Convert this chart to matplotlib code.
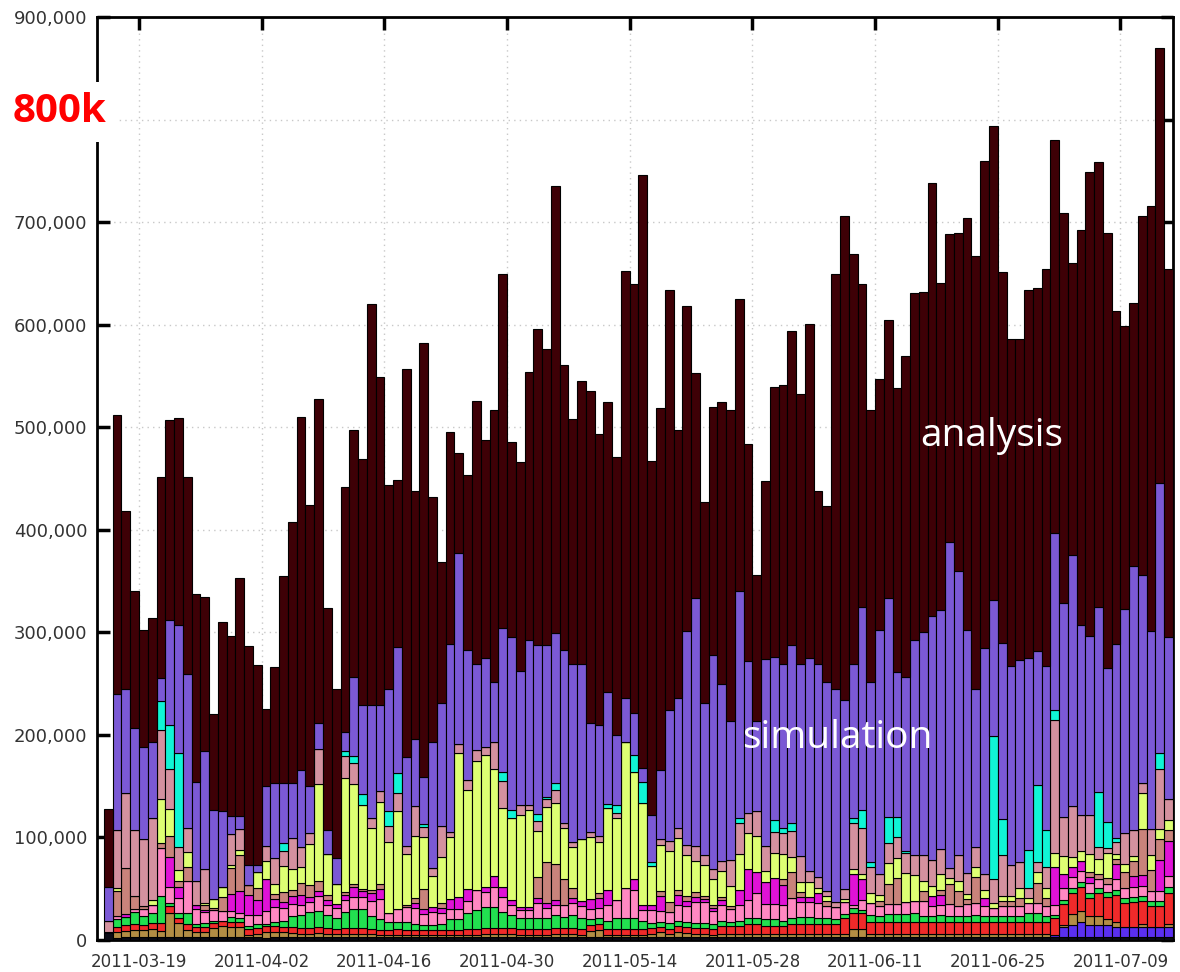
import matplotlib
matplotlib.use("Agg")
import matplotlib.pyplot as plt
import matplotlib.dates as mdates
from matplotlib.ticker import FuncFormatter, MultipleLocator
import numpy as np
import pandas as pd

# ---- data (thousands of jobs per day) ----
days = pd.date_range("2011-03-15", "2011-07-14", freq="D")

total = [
    128, 512, 418, 340, 302, 314, 451, 507, 509, 451,
    337, 334, 220, 310, 296, 353, 287, 268, 225, 266,
    355, 408, 510, 424, 528, 324, 245, 442, 497, 469,
    620, 549, 444, 449, 557, 438, 582, 432, 369, 495,
    475, 453, 526, 488, 517, 649, 486, 466, 554, 596,
    576, 735, 561, 508, 545, 535, 493, 525, 471, 652,
    640, 746, 467, 519, 634, 497, 618, 553, 427, 520,
    525, 517, 625, 484, 356, 448, 539, 541, 594, 532,
    601, 438, 423, 649, 706, 669, 640, 517, 547, 605,
    538, 569, 631, 632, 738, 641, 688, 689, 704, 667,
    760, 794, 651, 586, 586, 634, 636, 654, 780, 709,
    660, 692, 749, 759, 689, 613, 599, 621, 706, 716,
    870, 654]

simulation_top = [
    52, 240, 245, 207, 188, 193, 255, 312, 307, 259,
    154, 184, 127, 126, 121, 121, 73, 73, 150, 153,
    153, 153, 166, 150, 212, 107, 80, 203, 256, 229,
    229, 229, 245, 286, 178, 196, 159, 193, 231, 289,
    377, 283, 269, 275, 252, 304, 295, 262, 293, 288,
    288, 299, 283, 269, 269, 212, 210, 242, 200, 236,
    221, 168, 122, 166, 224, 236, 301, 333, 231, 278,
    250, 214, 340, 272, 214, 274, 276, 269, 288, 269,
    275, 269, 252, 245, 234, 269, 325, 252, 302, 333,
    261, 256, 293, 300, 316, 322, 388, 360, 302, 245,
    285, 332, 290, 267, 273, 275, 282, 267, 397, 329,
    375, 307, 296, 325, 265, 289, 323, 365, 356, 301,
    446, 295]

# smaller activities, one row per day:
# other, blue, tan, red, green, pink, magenta, rosy, yellow, mauve, cyan
small = [
    [8, 0, 0, 0, 0, 0, 0, 0, 0, 11, 0],
    [2, 0, 6, 5, 7, 3, 0, 25, 3, 56, 0],
    [3, 0, 6, 6, 7, 0, 3, 45, 0, 73, 0],
    [3, 0, 7, 6, 11, 3, 0, 13, 0, 64, 0],
    [3, 0, 7, 5, 8, 7, 0, 3, 0, 65, 0],
    [3, 0, 8, 6, 9, 8, 0, 0, 5, 80, 0],
    [3, 0, 6, 8, 26, 47, 0, 5, 42, 68, 28],
    [3, 0, 23, 7, 3, 16, 29, 20, 27, 39, 43],
    [3, 0, 14, 4, 5, 15, 11, 6, 10, 23, 91],
    [3, 0, 7, 6, 10, 32, 0, 13, 15, 23, 0],
    [3, 0, 5, 5, 3, 14, 4, 0, 0, 24, 0],
    [3, 0, 5, 5, 4, 10, 2, 5, 2, 33, 0],
    [3, 0, 9, 5, 2, 10, 0, 2, 9, 0, 0],
    [3, 0, 11, 5, 0, 9, 0, 14, 10, 0, 0],
    [3, 0, 10, 5, 4, 6, 17, 25, 3, 30, 0],
    [3, 0, 10, 5, 3, 5, 22, 35, 5, 20, 0],
    [3, 0, 2, 6, 3, 10, 20, 10, 0, 0, 0],
    [3, 0, 3, 6, 4, 8, 15, 12, 15, 0, 0],
    [2, 0, 6, 6, 2, 12, 31, 0, 18, 15, 0],
    [3, 0, 5, 6, 4, 14, 8, 5, 10, 25, 0],
    [3, 0, 5, 5, 6, 12, 6, 10, 25, 15, 8],
    [3, 0, 4, 6, 10, 12, 8, 6, 20, 30, 0],
    [3, 0, 3, 6, 12, 10, 10, 12, 15, 20, 0],
    [3, 0, 3, 6, 15, 10, 5, 12, 40, 10, 0],
    [3, 0, 4, 6, 15, 15, 5, 10, 94, 34, 0],
    [3, 0, 3, 6, 12, 10, 5, 5, 40, 0, 0],
    [3, 0, 3, 5, 10, 10, 4, 0, 20, 0, 0],
    [3, 0, 3, 6, 15, 12, 5, 3, 111, 21, 5],
    [3, 0, 3, 6, 18, 12, 10, 3, 97, 21, 6],
    [3, 0, 3, 6, 18, 12, 6, 2, 82, 0, 10],
    [3, 0, 3, 5, 12, 15, 8, 3, 60, 10, 0],
    [3, 0, 2, 5, 10, 20, 10, 5, 80, 10, 0],
    [3, 0, 2, 5, 8, 8, 0, 0, 70, 15, 15],
    [3, 0, 2, 6, 7, 12, 0, 0, 96, 17, 20],
    [3, 0, 2, 5, 8, 14, 0, 2, 50, 8, 0],
    [3, 0, 2, 5, 6, 15, 5, 5, 60, 30, 0],
    [3, 0, 2, 5, 5, 10, 5, 20, 50, 10, 3],
    [3, 0, 2, 5, 5, 12, 5, 0, 30, 8, 0],
    [3, 0, 2, 5, 6, 10, 5, 5, 45, 30, 0],
    [3, 0, 2, 5, 10, 10, 10, 0, 60, 5, 0],
    [3, 0, 2, 5, 10, 10, 12, 0, 140, 9, 0],
    [3, 0, 2, 6, 15, 12, 12, 0, 96, 10, 0],
    [3, 0, 2, 6, 18, 20, 0, 0, 126, 10, 0],
    [3, 0, 3, 6, 20, 15, 5, 0, 128, 8, 0],
    [3, 0, 3, 6, 20, 20, 10, 0, 105, 26, 0],
    [3, 0, 3, 6, 15, 15, 10, 0, 77, 26, 9],
    [3, 0, 3, 6, 12, 10, 5, 0, 80, 0, 8],
    [3, 0, 2, 6, 10, 8, 3, 0, 90, 10, 0],
    [3, 0, 2, 6, 10, 8, 3, 0, 95, 5, 0],
    [3, 0, 2, 6, 10, 15, 5, 20, 45, 10, 7],
    [3, 0, 2, 6, 10, 10, 5, 40, 54, 7, 2],
    [3, 0, 3, 6, 12, 10, 5, 35, 60, 12, 7],
    [3, 0, 3, 6, 10, 12, 0, 25, 50, 5, 0],
    [3, 0, 3, 6, 12, 12, 5, 10, 40, 5, 0],
    [3, 0, 2, 6, 10, 12, 5, 0, 60, 0, 0],
    [3, 0, 6, 6, 5, 10, 10, 0, 60, 5, 0],
    [3, 0, 7, 6, 5, 10, 10, 5, 50, 5, 0],
    [3, 0, 2, 6, 8, 15, 15, 0, 80, 0, 4],
    [3, 0, 2, 6, 10, 18, 0, 0, 80, 5, 8],
    [3, 0, 2, 6, 10, 30, 0, 0, 142, 0, 0],
    [3, 0, 2, 6, 10, 28, 10, 0, 105, 0, 16],
    [3, 0, 2, 6, 8, 10, 5, 0, 100, 0, 20],
    [3, 0, 3, 6, 5, 12, 5, 0, 38, 0, 4],
    [3, 0, 5, 5, 5, 10, 15, 5, 45, 5, 0],
    [3, 0, 3, 5, 6, 10, 0, 10, 50, 10, 0],
    [3, 0, 5, 6, 5, 15, 10, 5, 50, 10, 0],
    [3, 0, 4, 6, 5, 15, 5, 5, 40, 10, 0],
    [3, 0, 3, 6, 5, 20, 5, 5, 30, 15, 0],
    [3, 0, 3, 6, 5, 20, 3, 3, 30, 10, 0],
    [3, 0, 2, 6, 5, 12, 3, 3, 25, 10, 0],
    [3, 0, 3, 8, 5, 15, 5, 3, 25, 10, 0],
    [3, 0, 3, 8, 4, 12, 0, 3, 20, 25, 0],
    [3, 0, 3, 8, 5, 15, 15, 0, 35, 30, 5],
    [3, 0, 3, 10, 5, 18, 30, 0, 35, 20, 0],
    [3, 0, 3, 10, 5, 25, 20, 0, 35, 25, 0],
    [3, 0, 3, 8, 6, 15, 22, 0, 10, 25, 0],
    [3, 0, 3, 8, 6, 15, 25, 0, 25, 20, 12],
    [3, 0, 3, 8, 5, 15, 20, 5, 25, 20, 5],
    [3, 0, 3, 10, 5, 20, 0, 25, 15, 25, 8],
    [3, 0, 3, 10, 6, 15, 5, 5, 10, 25, 0],
    [3, 0, 3, 10, 6, 15, 5, 0, 15, 10, 0],
    [3, 0, 3, 10, 5, 15, 10, 0, 5, 10, 0],
    [3, 0, 3, 10, 5, 12, 0, 5, 5, 5, 0],
    [3, 0, 3, 10, 4, 12, 0, 0, 0, 5, 0],
    [3, 0, 3, 15, 4, 12, 0, 0, 3, 10, 0],
    [3, 0, 8, 15, 5, 3, 30, 0, 5, 45, 5],
    [3, 0, 8, 15, 3, 10, 20, 0, 5, 45, 18],
    [3, 0, 3, 12, 6, 12, 0, 0, 10, 25, 5],
    [3, 0, 3, 12, 5, 10, 0, 5, 6, 20, 0],
    [3, 0, 3, 12, 7, 10, 0, 20, 20, 20, 25],
    [3, 0, 3, 12, 7, 10, 0, 25, 20, 20, 20],
    [3, 0, 3, 12, 7, 12, 0, 0, 28, 20, 2],
    [3, 0, 3, 12, 8, 12, 0, 0, 25, 20, 0],
    [3, 0, 3, 12, 5, 15, 0, 10, 10, 25, 0],
    [3, 0, 3, 12, 5, 10, 10, 0, 10, 25, 0],
    [3, 0, 3, 12, 6, 10, 10, 5, 15, 25, 0],
    [3, 0, 3, 12, 5, 12, 0, 20, 5, 10, 0],
    [3, 0, 3, 12, 5, 10, 0, 15, 10, 25, 0],
    [3, 0, 3, 12, 5, 12, 0, 5, 5, 20, 0],
    [3, 0, 3, 12, 6, 12, 0, 25, 10, 20, 0],
    [3, 0, 3, 12, 5, 10, 8, 0, 8, 15, 0],
    [3, 0, 3, 12, 5, 8, 0, 0, 5, 23, 140],
    [3, 0, 3, 12, 5, 10, 0, 5, 5, 40, 35],
    [3, 0, 3, 12, 5, 10, 0, 5, 5, 30, 0],
    [3, 0, 3, 12, 5, 10, 0, 8, 10, 25, 0],
    [3, 0, 3, 12, 8, 10, 0, 0, 5, 10, 37],
    [3, 0, 3, 12, 8, 10, 0, 20, 10, 10, 75],
    [3, 0, 3, 12, 5, 10, 0, 8, 10, 20, 36],
    [3, 2, 0, 16, 3, 10, 37, 0, 14, 130, 9],
    [3, 10, 2, 20, 4, 12, 13, 0, 18, 38, 0],
    [3, 12, 10, 21, 5, 10, 10, 0, 10, 50, 0],
    [3, 15, 10, 24, 5, 10, 10, 0, 10, 35, 0],
    [3, 12, 8, 18, 5, 10, 5, 5, 18, 38, 0],
    [3, 12, 8, 23, 5, 8, 0, 5, 15, 12, 53],
    [3, 12, 5, 22, 5, 8, 0, 5, 25, 5, 25],
    [3, 10, 5, 26, 5, 10, 15, 5, 5, 12, 3],
    [3, 10, 0, 23, 5, 10, 0, 15, 8, 30, 0],
    [3, 10, 0, 24, 5, 10, 10, 15, 5, 25, 0],
    [3, 10, 3, 22, 5, 10, 10, 45, 35, 10, 0],
    [3, 10, 0, 20, 5, 10, 0, 20, 15, 25, 0],
    [3, 10, 0, 20, 5, 10, 30, 20, 10, 59, 15],
    [3, 10, 3, 30, 6, 10, 35, 10, 10, 20, 0],
]

small_colors = ["#0b0b16", "#5a2ff0", "#b38d45", "#f02a2a", "#22e050",
                "#ff88c2", "#e012d6", "#c9837b", "#deff73", "#d4919f",
                "#10f5d5"]
simulation_color = "#7b59d5"
analysis_color = "#3e0006"

# ---- figure ----
W, H = 1180, 972
fig = plt.figure(figsize=(W / 100, H / 100), dpi=100)
ax = fig.add_axes([97 / W, 1 - 940 / H, (1173 - 97) / W, (940 - 17) / H])

scale = 1000.0
small_arr = np.array(small, dtype=float) * scale
bottom = np.zeros(len(days))
bar_kw = dict(width=1.0, align="edge", edgecolor="black", linewidth=0.8, zorder=3)
for j, col in enumerate(small_colors):
    ax.bar(days, small_arr[:, j], bottom=bottom, color=col, **bar_kw)
    bottom = bottom + small_arr[:, j]

sim_top = np.array(simulation_top, dtype=float) * scale
ax.bar(days, sim_top - bottom, bottom=bottom, color=simulation_color, **bar_kw)
tot = np.array(total, dtype=float) * scale
ax.bar(days, tot - sim_top, bottom=sim_top, color=analysis_color, **bar_kw)

# ---- axes styling ----
ax.set_ylim(0, 900000)
ax.set_xlim(pd.Timestamp("2011-03-14 05:00"), pd.Timestamp("2011-07-15 00:00"))
ax.yaxis.set_major_locator(MultipleLocator(100000))
# the 800,000 label sits under the "800k" callout
ax.yaxis.set_major_formatter(
    FuncFormatter(lambda v, p: "" if abs(v - 800000) < 1 else f"{v:,.0f}"))
ticks = pd.date_range("2011-03-19", "2011-07-09", freq="14D")
ax.set_xticks(ticks)
ax.xaxis.set_major_formatter(mdates.DateFormatter("%Y-%m-%d"))

ax.tick_params(axis="both", which="major", direction="in", length=9, width=2.5,
               top=True, right=True, colors="black", labelcolor="#333333")
ax.tick_params(axis="x", pad=9, labelsize=12)
ax.tick_params(axis="y", pad=7, labelsize=13)
for lab in ax.get_xticklabels() + ax.get_yticklabels():
    lab.set_fontfamily("DejaVu Sans")
for sp in ax.spines.values():
    sp.set_linewidth(2)
ax.grid(True, color="#c8c8c8", linestyle=(0, (1, 3)), linewidth=1, zorder=0)
ax.set_axisbelow(True)

# ---- annotations ----
fig.text(920 / W, 1 - 436 / H, "analysis", color="white", fontsize=28,
         family=["Open Sans", "DejaVu Sans"], ha="left", va="center", zorder=10)
fig.text(742 / W, 1 - 738 / H, "simulation", color="white", fontsize=28,
         family=["Open Sans", "DejaVu Sans"], ha="left", va="center", zorder=10)
fig.text(60 / W, 1 - 112 / H, "800k", color="#ff0000", fontsize=29,
         fontweight="bold", family=["Open Sans", "DejaVu Sans"],
         ha="center", va="center", zorder=10,
         bbox=dict(boxstyle="square,pad=0.25", facecolor="white", edgecolor="none"))

fig.savefig("out.png", dpi=100)
